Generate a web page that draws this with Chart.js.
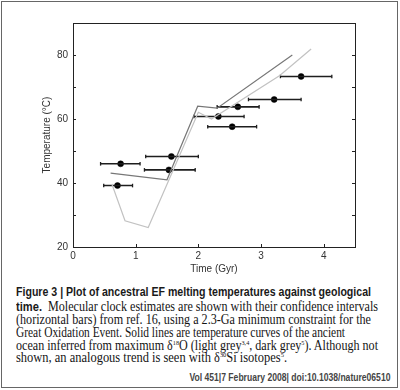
<!DOCTYPE html>
<html>
<head>
<meta charset="utf-8">
<script src="https://cdn.jsdelivr.net/npm/chart.js@4.4.1/dist/chart.umd.min.js"></script>
<style>
  html, body { margin: 0; padding: 0; background: #fff; }
  #wrap { position: relative; width: 400px; height: 390px; overflow: hidden; background: #fff; }
  #frame { position: absolute; left: 1px; top: 1px; width: 395px; height: 385px; border: 1px solid #666; }
  #cv { position: absolute; left: 0; top: 0; }
  .ln { position: absolute; left: 16px; white-space: nowrap; transform-origin: left center; color: #141414;
        font-family: "Liberation Serif", "DejaVu Serif", serif; font-size: 13.6px; line-height: 14px; }
  .hd { font-family: "Liberation Sans", Arial, sans-serif; font-weight: bold; font-size: 12.5px; color: #1a1a1a; }
  .ln sup { font-size: 7px; vertical-align: 5px; line-height: 0; }
  #foot { position: absolute; right: 10px; white-space: nowrap; transform-origin: right center;
          font-family: "Liberation Sans", Arial, sans-serif; font-weight: bold; font-size: 10px; color: #444; line-height: 12px; }
</style>
</head>
<body>
<div id="wrap">
  <div id="frame"></div>
  <canvas id="cv" width="400" height="280"></canvas>
  <div class="ln" data-w="355" style="top:285px"><span class="hd">Figure 3 | Plot of ancestral EF melting temperatures against geological</span></div>
  <div class="ln" data-w="362" style="top:300px"><span class="hd">time.</span>&nbsp; Molecular clock estimates are shown with their confidence intervals</div>
  <div class="ln" data-w="355" style="top:313px">(horizontal bars) from ref. 16, using a 2.3-Ga minimum constraint for the</div>
  <div class="ln" data-w="329" style="top:326px">Great Oxidation Event. Solid lines are temperature curves of the ancient</div>
  <div class="ln" data-w="362" style="top:339px">ocean inferred from maximum δ<sup>18</sup>O (light grey<sup>3,4</sup>, dark grey<sup>5</sup>). Although not</div>
  <div class="ln" data-w="271" style="top:351px">shown, an analogous trend is seen with δ<sup>30</sup>Si isotopes<sup>5</sup>.</div>
  <div id="foot" data-w="201" style="top:372px">Vol 451|7 February 2008| doi:10.1038/nature06510</div>
</div>
<script>
// ---- data ----
const pointX   = [0.76, 0.71, 1.57, 1.53, 2.32, 2.63, 2.54, 3.21, 3.64];
const pointY   = [46.0, 39.2, 48.3, 44.1, 60.8, 63.8, 57.6, 66.1, 73.3];
const errLow   = [0.44, 0.49, 1.16, 1.14, 1.93, 2.30, 2.15, 2.80, 3.31];
const errHigh  = [1.07, 0.95, 2.00, 1.95, 2.73, 2.97, 2.93, 3.64, 4.13];

const darkX  = [0.60, 1.50, 1.99, 2.30, 3.50];
const darkY  = [43.1, 41.0, 64.0, 63.4, 80.0];
const lightX = [0.62, 0.83, 1.20, 2.00, 2.21, 3.30, 3.80];
const lightY = [39.7, 28.2, 26.1, 62.1, 60.0, 73.6, 81.9];

const xTicks = [0, 1, 2, 3, 4];
const yTicks = [20, 30, 40, 50, 60, 70, 80, 90];
const yTickLabels = [20, 40, 60, 80];

const xTitle = "Time (Gyr)";
const yTitle = "Temperature (°C)";

// ---- build datasets ----
const errData = [];
pointY.forEach((y, i) => {
  errData.push({x: errLow[i], y: y}, {x: errHigh[i], y: y}, {x: null, y: null});
});

const tickFont = {family: "'Liberation Sans', Arial, sans-serif", size: 10};

// frame + inward ticks on all four sides, positioned through the chart scales
const framePlugin = {
  id: 'frame',
  afterDraw(chart) {
    const {ctx, chartArea: a, scales} = chart;
    ctx.save();
    ctx.strokeStyle = '#222';
    ctx.lineWidth = 1;
    ctx.strokeRect(Math.round(a.left) + 0.5, Math.round(a.top) + 0.5,
                   Math.round(a.right - a.left), Math.round(a.bottom - a.top));
    ctx.beginPath();
    xTicks.forEach(v => {
      const px = Math.round(scales.x.getPixelForValue(v)) + 0.5;
      ctx.moveTo(px, a.bottom); ctx.lineTo(px, a.bottom - 3);
    });
    yTicks.forEach(v => {
      const py = Math.round(scales.y.getPixelForValue(v)) + 0.5;
      ctx.moveTo(a.left, py); ctx.lineTo(a.left + 3, py);
      ctx.moveTo(a.right, py); ctx.lineTo(a.right - 3, py);
    });
    ctx.stroke();
    ctx.restore();
  }
};

new Chart(document.getElementById('cv'), {
  type: 'scatter',
  data: {
    datasets: [
      {
        label: 'dark grey',
        data: darkX.map((x, i) => ({x, y: darkY[i]})),
        showLine: true, borderColor: '#777777', borderWidth: 1.2, pointRadius: 0, tension: 0
      },
      {
        label: 'light grey',
        data: lightX.map((x, i) => ({x, y: lightY[i]})),
        showLine: true, borderColor: '#c2c2c2', borderWidth: 1.2, pointRadius: 0, tension: 0
      },
      {
        label: 'confidence intervals',
        data: errData,
        showLine: true, spanGaps: false, borderColor: '#1e1e1e', borderWidth: 1.6,
        pointStyle: 'line', rotation: 90, pointRadius: 1.8, pointBorderWidth: 1.3,
        pointBorderColor: '#1e1e1e'
      },
      {
        label: 'estimates',
        data: pointX.map((x, i) => ({x, y: pointY[i]})),
        pointRadius: 3, pointBackgroundColor: '#000', pointBorderColor: '#000', pointBorderWidth: 0.5
      }
    ]
  },
  options: {
    responsive: false,
    animation: false,
    events: [],
    layout: { padding: { left: 30, right: 45, top: 23, bottom: 0 } },
    plugins: { legend: { display: false }, tooltip: { enabled: false } },
    scales: {
      x: {
        type: 'linear', min: 0, max: 4.5,
        afterBuildTicks: s => { s.ticks = xTicks.map(v => ({value: v})); },
        afterFit: s => { s.height = 33; },
        grid: { display: false, drawTicks: false },
        border: { display: false },
        ticks: { color: '#333', font: tickFont, padding: 3, maxRotation: 0, autoSkip: false },
        title: { display: true, text: xTitle, color: '#333', font: tickFont, padding: {top: 0, bottom: 5} }
      },
      y: {
        type: 'linear', min: 20, max: 90,
        afterBuildTicks: s => { s.ticks = yTicks.map(v => ({value: v})); },
        afterFit: s => { s.width = 43; },
        grid: { display: false, drawTicks: false },
        border: { display: false },
        ticks: {
          color: '#333', font: tickFont, padding: 5, autoSkip: false,
          callback: v => yTickLabels.includes(v) ? String(v) : ''
        },
        title: { display: true, text: yTitle, color: '#333', font: tickFont, padding: {top: 11, bottom: 0} }
      }
    }
  },
  plugins: [framePlugin]
});

// fit caption lines to the widths they occupy in the reference
document.querySelectorAll('.ln, #foot').forEach(el => {
  const target = parseFloat(el.dataset.w);
  const w = el.getBoundingClientRect().width;
  if (w > 0) el.style.transform = 'scaleX(' + (target / w).toFixed(4) + ')';
});
</script>
</body>
</html>
